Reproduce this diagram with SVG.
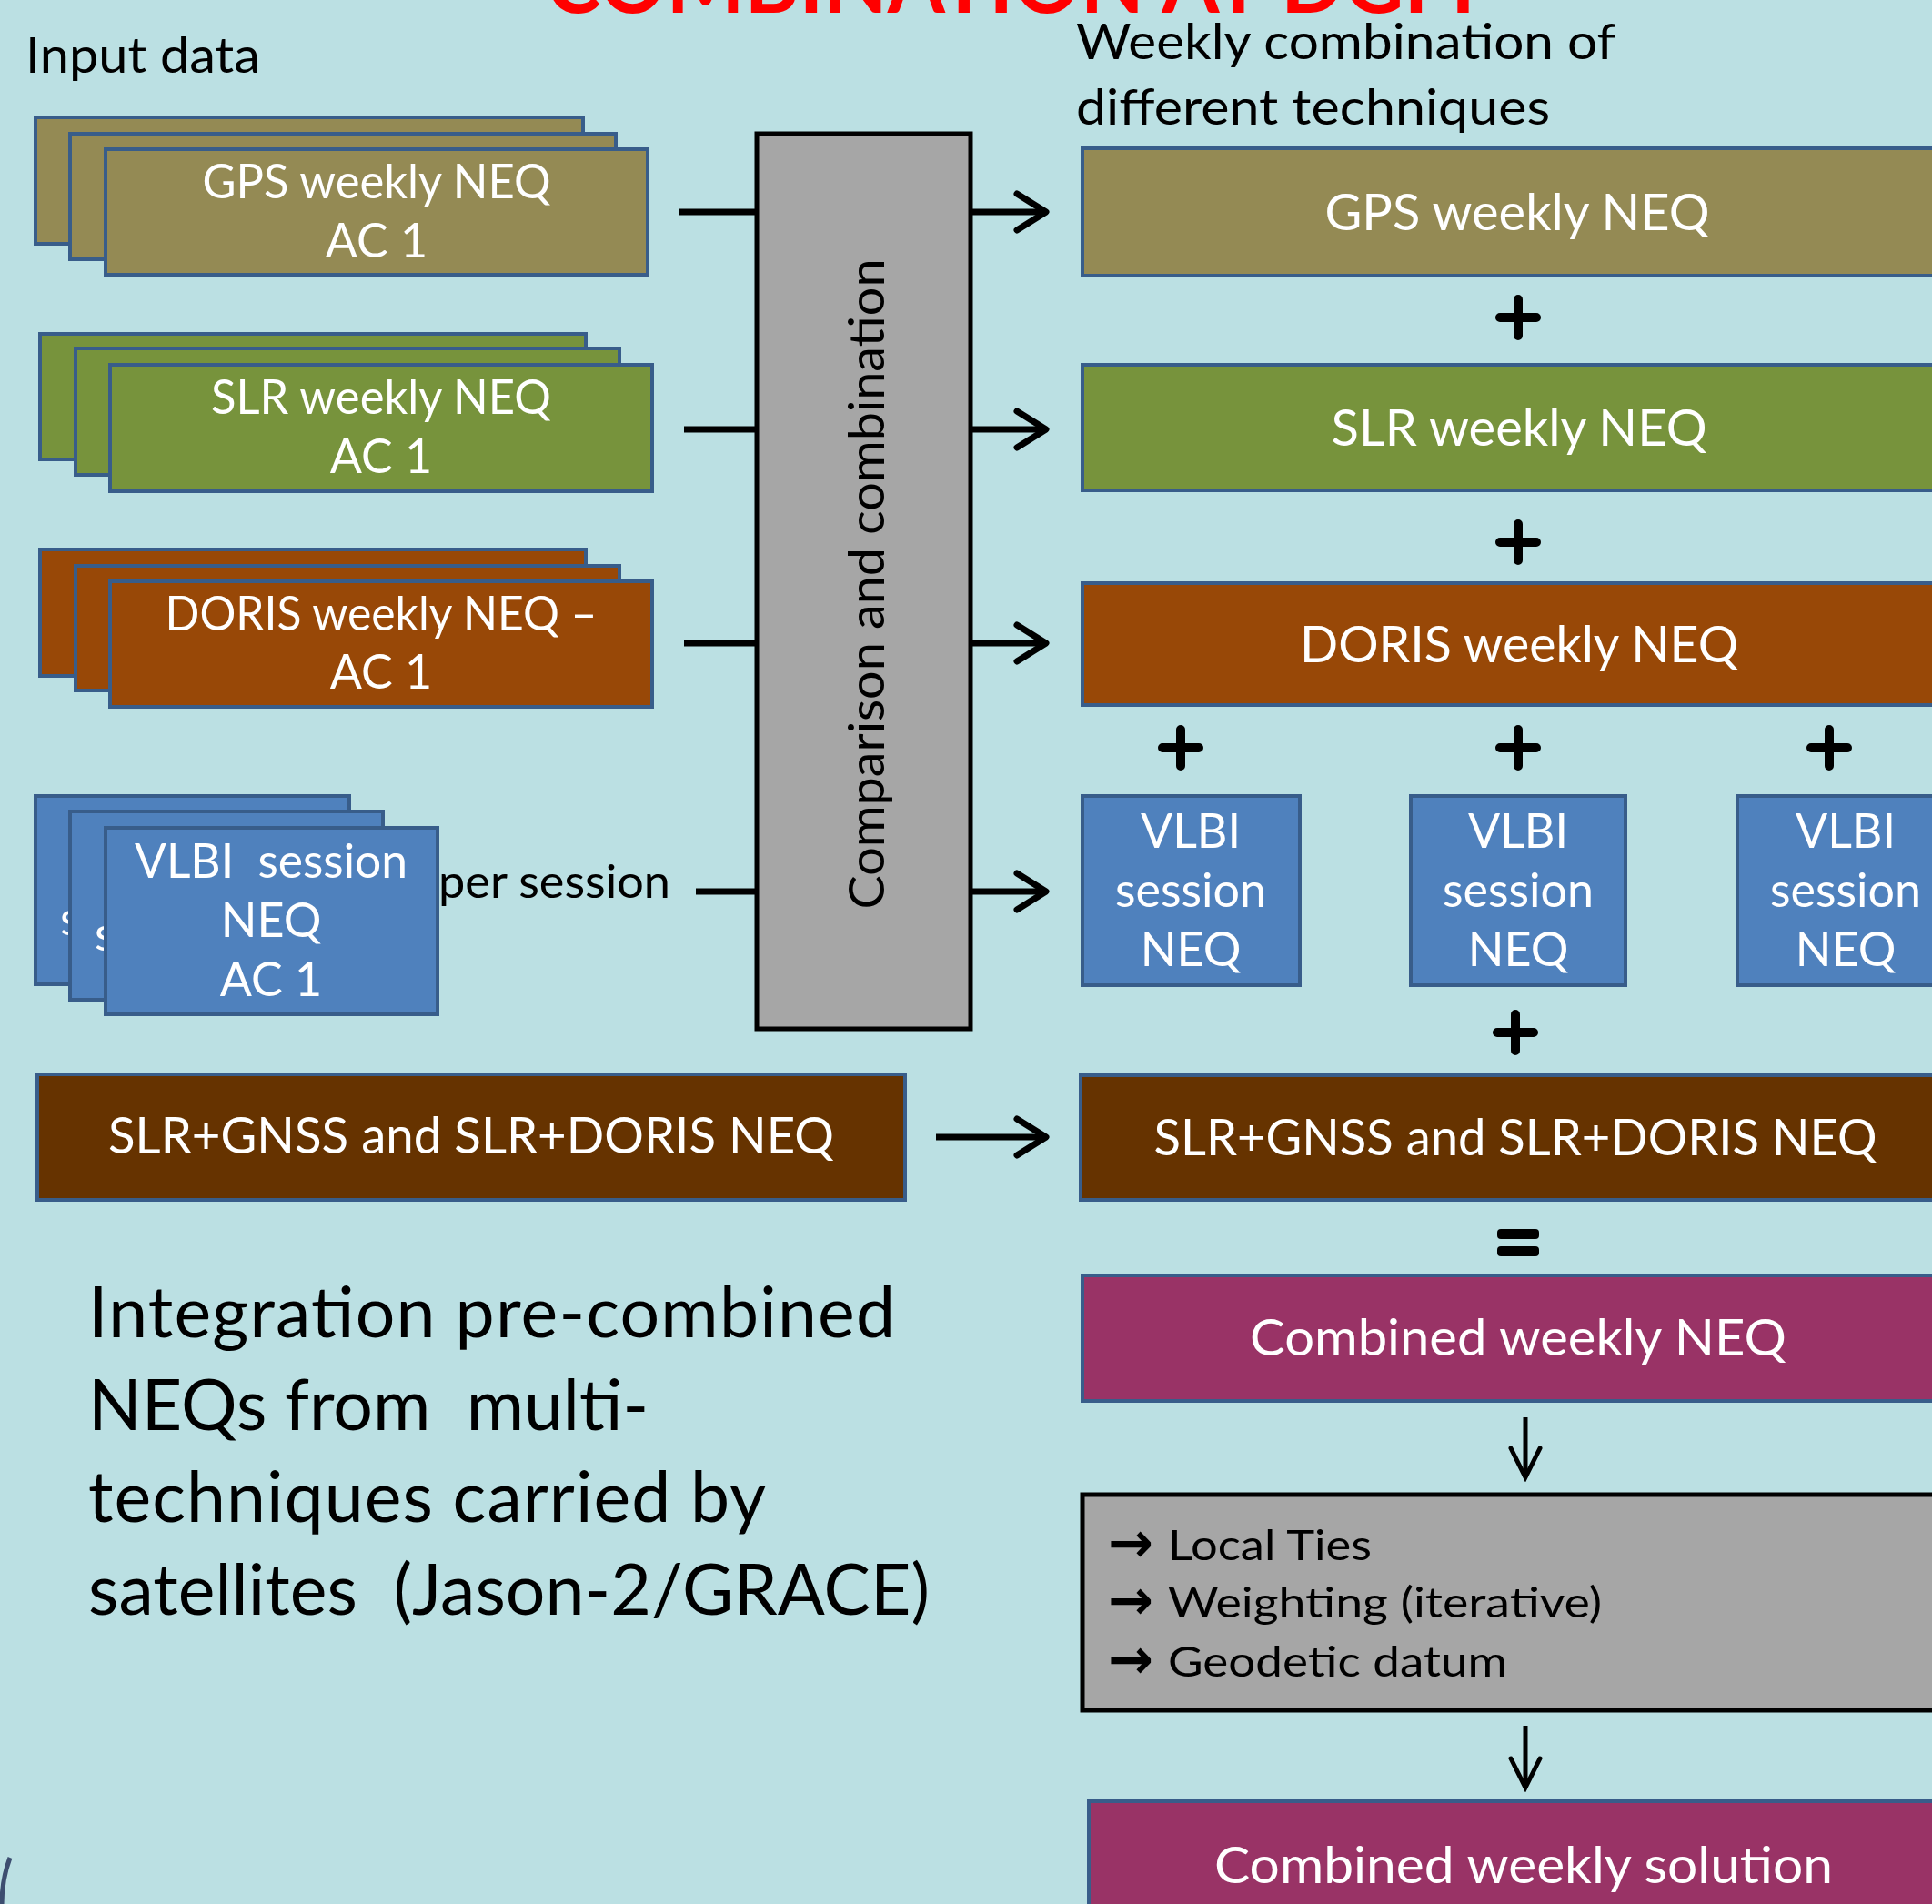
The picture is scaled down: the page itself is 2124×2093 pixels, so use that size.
<svg xmlns="http://www.w3.org/2000/svg" width="2124" height="2093" viewBox="0 0 2124 2093">
<defs>
<style>
.box{stroke:#385d8a;stroke-width:4}
.gps{fill:#948a54}.slr{fill:#77933c}.doris{fill:#984807}.vlbi{fill:#4f81bd}.pair{fill:#663300}.comb{fill:#993366}
.proc{fill:#a6a6a6;stroke:#000;stroke-width:5}
text{font-family:Lato,"Liberation Sans",sans-serif}
.w{fill:#fff}.k{fill:#000}
.l52{font-size:52px}.l57{font-size:57px}
.c{text-anchor:middle}
.conn{stroke:#000;stroke-width:7;fill:none}
.thin{stroke:#000;stroke-width:5;fill:none}
.op{stroke:#000;stroke-width:10;stroke-linecap:round}
.pre{white-space:pre}
.arr{font-family:"DejaVu Sans",sans-serif;font-weight:bold;font-size:62px}
</style>
<marker id="chev" markerUnits="userSpaceOnUse" viewBox="0 0 44 48" refX="38" refY="24" markerWidth="44" markerHeight="48" orient="auto">
<path d="M6,4 L38,24 L6,44" fill="none" stroke="#000" stroke-width="7" stroke-linecap="round" stroke-linejoin="round"/>
</marker>
<marker id="dchev" markerUnits="userSpaceOnUse" viewBox="0 0 40 40" refX="35" refY="20" markerWidth="40" markerHeight="40" orient="auto">
<path d="M3,4 L35,20 L3,36" fill="none" stroke="#000" stroke-width="5" stroke-linecap="round" stroke-linejoin="miter"/>
</marker>
</defs>

<rect x="0" y="0" width="2124" height="2093" fill="#bbe0e3"/>
<path d="M11,2042 Q2,2066 2,2093" fill="none" stroke="#3d4e70" stroke-width="5"/>

<text id="title" x="600" y="14" font-weight="bold" font-size="94" fill="#ff0000" textLength="1022" lengthAdjust="spacingAndGlyphs">COMBINATION AT DGFI</text>
<text id="input-data" x="28" y="80" font-size="55" class="k" textLength="258" lengthAdjust="spacingAndGlyphs">Input data</text>
<text id="weekly-head" font-size="55" class="k"><tspan x="1183" y="65" textLength="593" lengthAdjust="spacingAndGlyphs">Weekly combination of</tspan><tspan x="1183" y="137" textLength="521" lengthAdjust="spacingAndGlyphs">different techniques</tspan></text>

<g id="connectors">
<line class="conn" x1="747" y1="233" x2="832" y2="233"/>
<line class="conn" x1="752" y1="472" x2="832" y2="472"/>
<line class="conn" x1="752" y1="707" x2="832" y2="707"/>
<line class="conn" x1="765" y1="980" x2="832" y2="980"/>
<line class="conn" x1="1067" y1="233" x2="1150" y2="233" marker-end="url(#chev)"/>
<line class="conn" x1="1067" y1="472" x2="1150" y2="472" marker-end="url(#chev)"/>
<line class="conn" x1="1067" y1="707" x2="1150" y2="707" marker-end="url(#chev)"/>
<line class="conn" x1="1067" y1="980" x2="1150" y2="980" marker-end="url(#chev)"/>
<line class="conn" x1="1029" y1="1250" x2="1150" y2="1250" marker-end="url(#chev)"/>
<line class="thin" x1="1677" y1="1558" x2="1677" y2="1624" marker-end="url(#dchev)"/>
<line class="thin" x1="1677" y1="1897" x2="1677" y2="1965" marker-end="url(#dchev)"/>
</g>

<g id="gps-input">
<rect class="box gps" x="39" y="129" width="602" height="139"/>
<rect class="box gps" x="77" y="147" width="600" height="138"/>
<rect class="box gps" x="116" y="164" width="596" height="138"/>
<text class="w l52 c"><tspan x="414" y="218" textLength="383" lengthAdjust="spacingAndGlyphs">GPS weekly NEQ</tspan><tspan x="414" y="283">AC 1</tspan></text>
</g>

<g id="slr-input">
<rect class="box slr" x="44" y="367" width="600" height="138"/>
<rect class="box slr" x="83" y="383" width="598" height="139"/>
<rect class="box slr" x="121" y="401" width="596" height="139"/>
<text class="w l52 c"><tspan x="419" y="455" textLength="374" lengthAdjust="spacingAndGlyphs">SLR weekly NEQ</tspan><tspan x="419" y="520">AC 1</tspan></text>
</g>

<g id="doris-input">
<rect class="box doris" x="44" y="604" width="600" height="139"/>
<rect class="box doris" x="83" y="622" width="598" height="137"/>
<rect class="box doris" x="121" y="639" width="596" height="138"/>
<text class="w l52 c"><tspan x="419" y="693" textLength="475" lengthAdjust="spacingAndGlyphs">DORIS weekly NEQ –</tspan><tspan x="419" y="757">AC 1</tspan></text>
</g>

<g id="vlbi-input">
<rect class="box vlbi" x="39" y="875" width="345" height="207"/>
<text class="w l52" x="66" y="1028">session</text>
<rect class="box vlbi" x="77" y="892" width="344" height="207"/>
<text class="w l52" x="104" y="1045">session</text>
<rect class="box vlbi" x="116" y="910" width="365" height="205"/>
<text class="w l52 c pre"><tspan x="298" y="965" textLength="300" lengthAdjust="spacingAndGlyphs">VLBI  session</tspan><tspan x="298" y="1030">NEQ</tspan><tspan x="298" y="1095">AC 1</tspan></text>
</g>
<text id="per-session" x="482" y="987" font-size="51" class="k" textLength="255" lengthAdjust="spacingAndGlyphs">per session</text>

<g id="comparison">
<rect class="proc" x="832" y="147" width="235" height="984"/>
<text class="k c" font-size="54" transform="translate(972,642) rotate(-90)" x="0" y="0" textLength="715" lengthAdjust="spacingAndGlyphs">Comparison and combination</text>
</g>

<g id="pair-input">
<rect class="box pair" x="41" y="1181" width="954" height="138"/>
<text class="w l57 c" x="518" y="1268" textLength="798" lengthAdjust="spacingAndGlyphs">SLR+GNSS and SLR+DORIS NEQ</text>
</g>

<g id="gps-out">
<rect class="box gps" x="1190" y="163" width="960" height="140"/>
<text class="w l57 c" x="1668" y="253" textLength="423" lengthAdjust="spacingAndGlyphs">GPS weekly NEQ</text>
</g>
<g id="slr-out">
<rect class="box slr" x="1190" y="401" width="960" height="138"/>
<text class="w l57 c" x="1670" y="490" textLength="413" lengthAdjust="spacingAndGlyphs">SLR weekly NEQ</text>
</g>
<g id="doris-out">
<rect class="box doris" x="1190" y="641" width="960" height="134"/>
<text class="w l57 c" x="1670" y="728" textLength="482" lengthAdjust="spacingAndGlyphs">DORIS weekly NEQ</text>
</g>
<g id="vlbi-out-1">
<rect class="box vlbi" x="1190" y="875" width="239" height="208"/>
<text class="w l52 c"><tspan x="1309" y="932">VLBI</tspan><tspan x="1309" y="997">session</tspan><tspan x="1309" y="1062">NEQ</tspan></text>
</g>
<g id="vlbi-out-2">
<rect class="box vlbi" x="1551" y="875" width="236" height="208"/>
<text class="w l52 c"><tspan x="1669" y="932">VLBI</tspan><tspan x="1669" y="997">session</tspan><tspan x="1669" y="1062">NEQ</tspan></text>
</g>
<g id="vlbi-out-3">
<rect class="box vlbi" x="1910" y="875" width="238" height="208"/>
<text class="w l52 c"><tspan x="2029" y="932">VLBI</tspan><tspan x="2029" y="997">session</tspan><tspan x="2029" y="1062">NEQ</tspan></text>
</g>
<g id="pair-out">
<rect class="box pair" x="1188" y="1182" width="962" height="137"/>
<text class="w l57 c" x="1666" y="1270" textLength="795" lengthAdjust="spacingAndGlyphs">SLR+GNSS and SLR+DORIS NEQ</text>
</g>
<g id="combined-neq">
<rect class="box comb" x="1190" y="1402" width="960" height="138"/>
<text class="w l57 c" x="1669" y="1490" textLength="590" lengthAdjust="spacingAndGlyphs">Combined weekly NEQ</text>
</g>
<g id="processing">
<rect x="1190" y="1643" width="960" height="237" fill="#a6a6a6" stroke="#000" stroke-width="5"/>
<text class="k" font-size="46">
<tspan x="1218" y="1717" class="arr" textLength="50" lengthAdjust="spacingAndGlyphs">→</tspan><tspan x="1284" y="1715" textLength="224" lengthAdjust="spacingAndGlyphs">Local Ties</tspan>
<tspan x="1218" y="1780" class="arr" textLength="50" lengthAdjust="spacingAndGlyphs">→</tspan><tspan x="1284" y="1778" textLength="477" lengthAdjust="spacingAndGlyphs">Weighting (iterative)</tspan>
<tspan x="1218" y="1845" class="arr" textLength="50" lengthAdjust="spacingAndGlyphs">→</tspan><tspan x="1284" y="1843" textLength="373" lengthAdjust="spacingAndGlyphs">Geodetic datum</tspan>
</text>
</g>
<g id="combined-solution">
<rect class="box comb" x="1197" y="1980" width="953" height="140"/>
<text class="w l57 c" x="1675" y="2070" textLength="680" lengthAdjust="spacingAndGlyphs">Combined weekly solution</text>
</g>

<g id="operators">
<path class="op" d="M1669,329 V369 M1649,349 H1689"/>
<path class="op" d="M1669,576 V616 M1649,596 H1689"/>
<path class="op" d="M1298,802 V842 M1278,822 H1318"/>
<path class="op" d="M1669,802 V842 M1649,822 H1689"/>
<path class="op" d="M2011,802 V842 M1991,822 H2031"/>
<path class="op" d="M1666,1115 V1155 M1646,1135 H1686"/>
<rect x="1646" y="1351" width="46" height="11" rx="4" fill="#000"/>
<rect x="1646" y="1370" width="46" height="11" rx="4" fill="#000"/>
</g>

<text id="note" class="k" font-size="77"><tspan x="97" y="1470" textLength="887">Integration pre-combined</tspan><tspan x="97" y="1572" class="pre" textLength="616">NEQs from  multi-</tspan><tspan x="97" y="1673" textLength="745">techniques carried by</tspan><tspan x="97" y="1775" class="pre" textLength="925">satellites  (Jason-2/GRACE)</tspan></text>
</svg>
